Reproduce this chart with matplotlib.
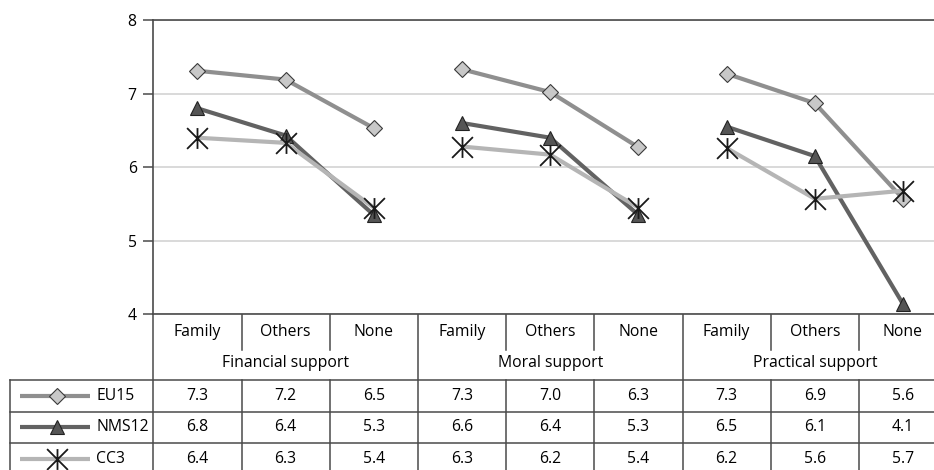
import numpy as np
import matplotlib.pyplot as plt
from matplotlib.path import Path

plt.rcParams['font.family'] = ['Open Sans', 'DejaVu Sans']

groups = ['Financial support', 'Moral support', 'Practical support']
cats = ['Family', 'Others', 'None']
series = ['EU15', 'NMS12', 'CC3']

# values as plotted
eu15 = [7.31, 7.19, 6.53, 7.33, 7.02, 6.27, 7.27, 6.87, 5.57]
nms12 = [6.80, 6.43, 5.35, 6.60, 6.40, 5.35, 6.55, 6.15, 4.14]
cc3 = [6.40, 6.33, 5.45, 6.28, 6.17, 5.45, 6.26, 5.57, 5.68]

# values as printed in the data table
eu15_tab = ['7.3', '7.2', '6.5', '7.3', '7.0', '6.3', '7.3', '6.9', '5.6']
nms12_tab = ['6.8', '6.4', '5.3', '6.6', '6.4', '5.3', '6.5', '6.1', '4.1']
cc3_tab = ['6.4', '6.3', '5.4', '6.3', '6.2', '5.4', '6.2', '5.6', '5.7']

# asterisk marker: vertical bar + X
star = Path([(0, -1), (0, 1), (-1, -1), (1, 1), (-1, 1), (1, -1)],
            [Path.MOVETO, Path.LINETO, Path.MOVETO, Path.LINETO, Path.MOVETO, Path.LINETO])

styles = {
    'EU15': dict(color='#8f8f8f', marker='D', markersize=8, markerfacecolor='#c8c8c8',
                 markeredgecolor='#3a3a3a', markeredgewidth=0.8),
    'NMS12': dict(color='#626262', marker='^', markersize=10, markerfacecolor='#555555',
                  markeredgecolor='#222222', markeredgewidth=0.8),
    'CC3': dict(color='#b5b5b5', marker=star, markersize=15, markerfacecolor='none',
                markeredgecolor='#1a1a1a', markeredgewidth=1.3),
}
data = {'EU15': eu15, 'NMS12': nms12, 'CC3': cc3}
tab = {'EU15': eu15_tab, 'NMS12': nms12_tab, 'CC3': cc3_tab}

W, H = 934, 470
x0, colw = 153.3, 88.2      # left edge of plot, width of one category column (px)
y_top, y_bot = 20, 314.3    # plot top / bottom (px)
ncol = len(groups) * len(cats)
fs = 11.3

fig = plt.figure(figsize=(W / 100, H / 100), dpi=100)
ax = fig.add_axes([x0 / W, (H - y_bot) / H, ncol * colw / W, (y_bot - y_top) / H])
ax.set_xlim(-0.5, ncol - 0.5)
ax.set_ylim(4, 8)
ax.set_yticks([4, 5, 6, 7, 8])
ax.set_xticks([])
ax.yaxis.grid(True, color='#cfcfcf', linewidth=1.1)
ax.set_axisbelow(True)
for s in ['left', 'top', 'bottom']:
    ax.spines[s].set_color('#4a4a4a')
    ax.spines[s].set_linewidth(1.2)
ax.spines['right'].set_visible(False)
ax.tick_params(axis='y', length=7, width=1.1, color='#4a4a4a', labelsize=fs, pad=5)

for name in series:
    vals = data[name]
    for g in range(len(groups)):
        xs = np.arange(3) + 3 * g
        ax.plot(xs, vals[3 * g:3 * g + 3], linewidth=3, solid_capstyle='butt',
                clip_on=False, **styles[name])

# overlay for title, category labels and table, in pixel coords (y down)
ov = fig.add_axes([0, 0, 1, 1], zorder=-1)
ov.set_xlim(0, W)
ov.set_ylim(H, 0)
ov.axis('off')

ov.text(561, 40, 'Satisfaction by social support', fontsize=fs, ha='center', va='center')

lc = '#4a4a4a'
tab_top, row_h = 380, 31.5
edges = [x0 + i * colw for i in range(ncol + 1)]

# category labels and separators
for i in range(ncol):
    cx = x0 + (i + 0.5) * colw
    ov.text(cx, 332, cats[i % 3], fontsize=fs, ha='center', va='center')
for i in range(1, ncol):
    if i % 3 == 0:
        ov.plot([edges[i], edges[i]], [y_bot, H], color=lc, lw=1.1)
    else:
        ov.plot([edges[i], edges[i]], [y_bot, 350], color=lc, lw=1.1)
for g in range(len(groups)):
    cx = x0 + (3 * g + 1.5) * colw
    ov.text(cx, 363, groups[g], fontsize=fs, ha='center', va='center')

# plot left edge continues through table
ov.plot([x0, x0], [y_bot, H], color=lc, lw=1.1)

# table
for r in range(len(series) + 1):
    y = tab_top + r * row_h
    ov.plot([10, W], [y, y], color=lc, lw=1.1)
ov.plot([10, 10], [tab_top, H], color=lc, lw=1.1)
for i in range(1, ncol):
    if i % 3:
        ov.plot([edges[i], edges[i]], [tab_top, H], color=lc, lw=1.1)

for r, name in enumerate(series):
    yc = tab_top + (r + 0.5) * row_h
    st = dict(styles[name])
    ov.plot([20, 90], [yc, yc], linewidth=3, color=st.pop('color'), solid_capstyle='butt')
    ov.plot([57], [yc], linestyle='none', **st)
    ov.text(96, yc, name, fontsize=fs, ha='left', va='center')
    for i in range(ncol):
        ov.text(x0 + (i + 0.5) * colw, yc, tab[name][i], fontsize=fs,
                ha='center', va='center')

fig.savefig('out.png', dpi=100)
